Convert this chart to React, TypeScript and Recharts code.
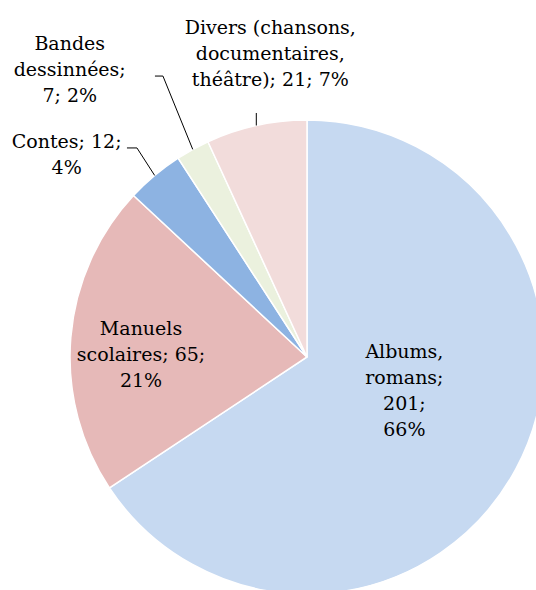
import React from "react";
import { Pie, PieChart, Cell } from "recharts";

const categories = [
  "Albums, romans",
  "Manuels scolaires",
  "Contes",
  "Bandes dessinnées",
  "Divers (chansons, documentaires, théâtre)",
];
const counts = [201, 65, 12, 7, 21];

const COLORS = ["#C6D9F1", "#E6B9B8", "#8DB3E2", "#EBF1DE", "#F2DCDB"];

// words per line for each label, and where each label sits
const LINE_BREAKS = [[1, 1, 1, 1], [1, 2, 1], [2, 1], [1, 1, 2], [2, 1, 3]];
const LABEL_LAYOUT = [
  { r: 0.5, dx: -7, dy: -55, leader: null },
  { r: 0.69, dx: -3, dy: -9, leader: null },
  { r: 1, dx: -88, dy: -27.5, leader: [[-17.7, -27.5], [-27.7, -27.5]] },
  { r: 1, dx: -123, dy: -99.3, leader: [[-29.8, -73.3], [-37.8, -73.3]] },
  { r: 1, dx: 14, dy: -91.5, leader: [[0, -12.5]] },
];

const data = categories.map((name, i) => ({ name, value: counts[i] }));
const total = counts.reduce((a, b) => a + b, 0);

const FONT = "'DejaVu Serif', serif";
const LINE_H = 26;
const RAD = Math.PI / 180;

const renderLabel = (props: any) => {
  const { cx, cy, midAngle, outerRadius, index, name, value } = props;
  const layout = LABEL_LAYOUT[index];
  const pct = Math.round((value / total) * 100);
  const words = `${name}; ${value}; ${pct}%`.split(" ");
  const lines: string[] = [];
  let k = 0;
  LINE_BREAKS[index].forEach((n) => {
    lines.push(words.slice(k, k + n).join(" "));
    k += n;
  });
  const px = cx + outerRadius * layout.r * Math.cos(-midAngle * RAD);
  const py = cy + outerRadius * layout.r * Math.sin(-midAngle * RAD);
  const ex = cx + outerRadius * Math.cos(-midAngle * RAD);
  const ey = cy + outerRadius * Math.sin(-midAngle * RAD);
  const leaderPts = layout.leader
    ? [[ex, ey], ...layout.leader.map(([x, y]) => [ex + x, ey + y])]
    : null;
  return (
    <g key={`lbl-${index}`}>
      {leaderPts && (
        <polyline
          points={leaderPts.map((p) => p.join(",")).join(" ")}
          fill="none"
          stroke="#000"
          strokeWidth={1}
        />
      )}
      <text
        x={px + layout.dx}
        y={py + layout.dy}
        textAnchor="middle"
        fontFamily={FONT}
        fontSize={19}
        fill="#000"
      >
        {lines.map((l, i) => (
          <tspan key={i} x={px + layout.dx} dy={i === 0 ? 0 : LINE_H}>
            {l}
          </tspan>
        ))}
      </text>
    </g>
  );
};

const App = () => {
  return (
    <div style={{ position: "absolute", left: 0, top: 0, background: "#fff" }}>
      <PieChart width={536} height={590} margin={{ top: 0, right: 0, bottom: 0, left: 0 }}>
        <Pie
          data={data}
          dataKey="value"
          nameKey="name"
          cx={307}
          cy={357}
          outerRadius={237}
          startAngle={90}
          endAngle={-270}
          stroke="#fff"
          strokeWidth={1.5}
          label={renderLabel}
          labelLine={false}
          isAnimationActive={false}
        >
          {data.map((entry, index) => (
            <Cell key={`cell-${index}`} fill={COLORS[index % COLORS.length]} />
          ))}
        </Pie>
      </PieChart>
    </div>
  );
};

export default App;
